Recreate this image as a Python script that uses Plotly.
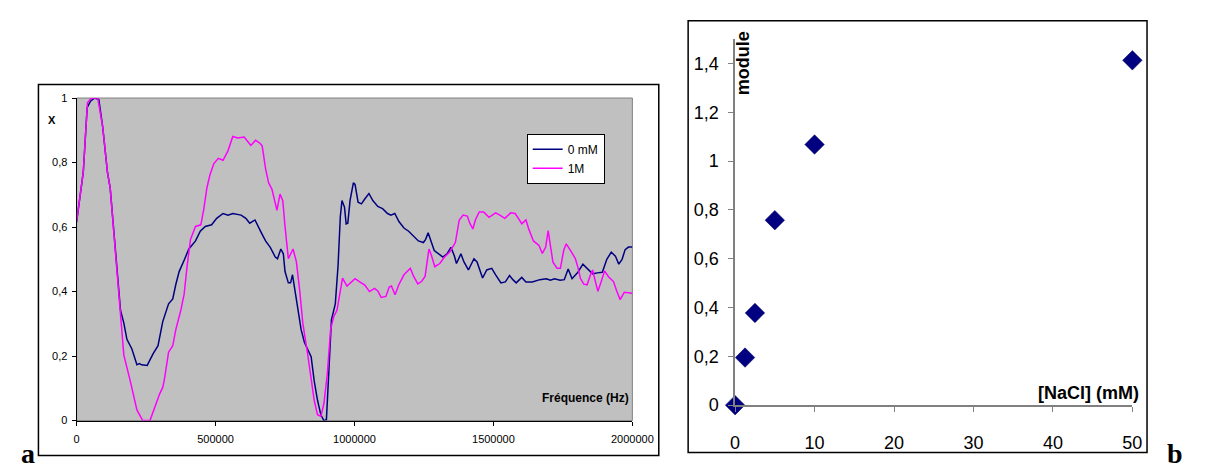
import plotly.graph_objects as go

# ---------------- Data: panel a ----------------
freq_0mM = [0, 12000, 24000, 38000, 50000, 65000, 80000, 94000, 111000, 121000, 135000, 147000, 158000,
            170000, 181000, 199000, 217000, 226000, 234000, 254000, 275000, 293000, 310000, 331000, 346000,
            357000, 369000, 387000, 404000, 428000, 445000, 463000, 486000, 504000, 527000, 545000, 562000,
            592000, 609000, 623000, 642000, 665000, 680000, 697000, 715000, 723000, 735000, 744000, 750000,
            762000, 770000, 777000, 785000, 797000, 808000, 820000, 832000, 844000, 855000, 867000, 879000,
            890000, 899000, 906000, 917000, 931000, 941000, 949000, 955000, 964000, 970000, 976000, 984000,
            996000, 1002000, 1013000, 1025000, 1037000, 1052000, 1066000, 1084000, 1101000, 1119000, 1131000,
            1145000, 1160000, 1178000, 1195000, 1213000, 1230000, 1248000, 1256000, 1265000, 1275000, 1287000,
            1303000, 1318000, 1333000, 1347000, 1359000, 1367000, 1383000, 1394000, 1410000, 1430000, 1441000,
            1461000, 1476000, 1494000, 1508000, 1527000, 1543000, 1558000, 1570000, 1582000, 1602000, 1617000,
            1640000, 1667000, 1690000, 1705000, 1720000, 1740000, 1755000, 1769000, 1783000, 1804000, 1822000,
            1839000, 1857000, 1874000, 1892000, 1908000, 1924000, 1939000, 1951000, 1963000, 1974000, 1986000,
            2000000]
x_0mM = [0.615, 0.69, 0.77, 0.97, 0.99, 1.0, 0.995, 0.91, 0.77, 0.72, 0.572, 0.452, 0.342,
         0.302, 0.252, 0.222, 0.173, 0.177, 0.173, 0.171, 0.207, 0.232, 0.307, 0.362, 0.377,
         0.422, 0.462, 0.497, 0.532, 0.557, 0.587, 0.602, 0.607, 0.627, 0.642, 0.637, 0.642,
         0.637, 0.627, 0.612, 0.622, 0.582, 0.557, 0.537, 0.507, 0.502, 0.532, 0.517, 0.462,
         0.427, 0.427, 0.452, 0.407, 0.342, 0.282, 0.242, 0.222, 0.198, 0.123, 0.063, 0.018,
         0.0, 0.003, 0.143, 0.312, 0.362, 0.482, 0.632, 0.682, 0.662, 0.61, 0.612, 0.682,
         0.737, 0.732, 0.677, 0.672, 0.687, 0.704, 0.682, 0.664, 0.657, 0.642, 0.637,
         0.642, 0.617, 0.597, 0.587, 0.572, 0.557, 0.552, 0.562, 0.582, 0.557, 0.527,
         0.517, 0.507, 0.517, 0.537, 0.512, 0.487, 0.517, 0.492, 0.467, 0.502, 0.492,
         0.442, 0.467, 0.472, 0.452, 0.427, 0.43, 0.45, 0.437, 0.427, 0.444, 0.43,
         0.43, 0.437, 0.44, 0.435, 0.44, 0.435, 0.437, 0.47, 0.44, 0.46, 0.485,
         0.47, 0.455, 0.458, 0.46, 0.50, 0.522, 0.51, 0.485, 0.50, 0.53, 0.538,
         0.538]

freq_1M = [0, 12000, 24000, 39000, 53000, 76000, 94000, 111000, 121000, 135000, 147000, 158000, 170000,
           193000, 217000, 238000, 264000, 299000, 310000, 316000, 331000, 346000, 357000, 375000, 387000,
           398000, 410000, 428000, 447000, 457000, 469000, 480000, 494000, 510000, 527000, 545000, 562000,
           580000, 603000, 627000, 644000, 660000, 668000, 680000, 691000, 703000, 721000, 732000, 742000,
           750000, 762000, 779000, 791000, 803000, 814000, 832000, 844000, 855000, 867000, 879000, 890000,
           902000, 914000, 925000, 937000, 949000, 957000, 973000, 1002000, 1019000, 1037000, 1054000,
           1072000, 1084000, 1096000, 1113000, 1125000, 1133000, 1146000, 1160000, 1178000, 1201000, 1213000,
           1228000, 1242000, 1254000, 1268000, 1277000, 1289000, 1307000, 1324000, 1342000, 1363000, 1377000,
           1391000, 1406000, 1415000, 1426000, 1435000, 1449000, 1465000, 1484000, 1508000, 1523000, 1541000,
           1562000, 1578000, 1590000, 1602000, 1617000, 1628000, 1644000, 1664000, 1676000, 1688000, 1697000,
           1706000, 1714000, 1729000, 1741000, 1753000, 1762000, 1777000, 1795000, 1805000, 1813000, 1825000,
           1837000, 1849000, 1857000, 1867000, 1876000, 1888000, 1900000, 1914000, 1932000, 1944000, 1956000,
           1971000, 1986000, 2000000]
x_1M = [0.617, 0.69, 0.77, 0.985, 1.0, 1.0, 0.91, 0.77, 0.72, 0.572, 0.452, 0.342, 0.203,
        0.123, 0.033, 0.0, 0.0, 0.083, 0.103, 0.128, 0.212, 0.232, 0.282, 0.342, 0.392,
        0.482, 0.562, 0.602, 0.607, 0.652, 0.722, 0.762, 0.797, 0.813, 0.807, 0.837, 0.881,
        0.876, 0.879, 0.853, 0.869, 0.86, 0.851, 0.781, 0.737, 0.717, 0.652, 0.702, 0.682,
        0.602, 0.502, 0.532, 0.492, 0.402, 0.302, 0.203, 0.133, 0.063, 0.018, 0.013, 0.053,
        0.143, 0.282, 0.322, 0.342, 0.402, 0.442, 0.417, 0.44, 0.43, 0.42, 0.40,
        0.41, 0.402, 0.382, 0.385, 0.414, 0.417, 0.39, 0.422, 0.452, 0.472, 0.447,
        0.424, 0.432, 0.447, 0.532, 0.512, 0.477, 0.487, 0.507, 0.522, 0.552, 0.622,
        0.637, 0.634, 0.612, 0.594, 0.622, 0.647, 0.647, 0.63, 0.644, 0.637, 0.627,
        0.644, 0.642, 0.627, 0.61, 0.622, 0.592, 0.557, 0.543, 0.518, 0.538, 0.589,
        0.543, 0.492, 0.472, 0.472, 0.528, 0.548, 0.528, 0.502, 0.472, 0.441, 0.423,
        0.421, 0.451, 0.467, 0.431, 0.401, 0.431, 0.464, 0.446, 0.431, 0.401, 0.375,
        0.398, 0.397, 0.395]

series_names = ["0 mM", "1M"]

xa_tickvals = [0, 500000, 1000000, 1500000, 2000000]
xa_ticktext = ["0", "500000", "1000000", "1500000", "2000000"]
ya_tickvals = [0, 0.2, 0.4, 0.6, 0.8, 1.0]
ya_ticktext = ["0", "0,2", "0,4", "0,6", "0,8", "1"]

# ---------------- Data: panel b ----------------
nacl_mM = [0, 1.25, 2.5, 5, 10, 50]
module_vals = [0.0, 0.195, 0.378, 0.758, 1.068, 1.413]

xb_tickvals = [0, 10, 20, 30, 40, 50]
xb_ticktext = ["0", "10", "20", "30", "40", "50"]
yb_tickvals = [0, 0.2, 0.4, 0.6, 0.8, 1.0, 1.2, 1.4]
yb_ticktext = ["0", "0,2", "0,4", "0,6", "0,8", "1", "1,2", "1,4"]

FONT = "Liberation Sans, Arial, sans-serif"
SERIF = "Liberation Serif, Times New Roman, serif"
W, H = 1207, 468


def px(x):
    return x / W


def py(y):
    return 1 - y / H


fig = go.Figure()

fig.add_trace(go.Scatter(x=freq_0mM, y=x_0mM, mode="lines", name=series_names[0],
                         line=dict(color="#000080", width=1.5), xaxis="x", yaxis="y"))
fig.add_trace(go.Scatter(x=freq_1M, y=x_1M, mode="lines", name=series_names[1],
                         line=dict(color="#FF00FF", width=1.5), xaxis="x", yaxis="y"))
fig.add_trace(go.Scatter(x=nacl_mM, y=module_vals, mode="markers", showlegend=False,
                         marker=dict(symbol="diamond", size=15, color="#000080",
                                     line=dict(color="#000060", width=0.5)),
                         xaxis="x2", yaxis="y2", cliponaxis=False))

# plot-area geometry (pixels)
a_x0, a_x1, a_y0, a_y1 = 65, 633, 87, 421
b_x0, b_x1, b_y0, b_y1 = 738, 1144, 26, 405

fig.update_layout(
    width=W, height=H,
    margin=dict(l=0, r=0, t=0, b=0),
    paper_bgcolor="white", plot_bgcolor="rgba(0,0,0,0)",
    font=dict(family=FONT, color="black"),
    showlegend=True,
    legend=dict(x=px(525), y=py(124), xanchor="left", yanchor="top",
                bgcolor="white", bordercolor="black", borderwidth=1,
                font=dict(size=12, family=FONT), tracegroupgap=2,
                itemwidth=30),
    xaxis=dict(domain=[px(a_x0), px(a_x1)], range=[0, 2000000], anchor="y",
               tickvals=xa_tickvals, ticktext=xa_ticktext, ticks="outside", ticklen=4,
               tickcolor="black", showline=True, linecolor="black", linewidth=1,
               showgrid=False, zeroline=False, tickfont=dict(size=11), ticklabelstandoff=4),
    yaxis=dict(domain=[py(a_y1), py(a_y0)], range=[0, 1], anchor="x",
               tickvals=ya_tickvals, ticktext=ya_ticktext, ticks="outside", ticklen=4,
               tickcolor="black", showline=True, linecolor="black", linewidth=1,
               showgrid=False, zeroline=False, tickfont=dict(size=11), ticklabelstandoff=2),
    xaxis2=dict(domain=[px(b_x0), px(b_x1)], range=[0, 50], anchor="y2",
                tickvals=xb_tickvals, ticktext=xb_ticktext, ticks="outside", ticklen=5,
                tickcolor="#808080", showline=True, linecolor="#808080", linewidth=1.5,
                showgrid=False, zeroline=False, tickfont=dict(size=18), ticklabelstandoff=15),
    yaxis2=dict(domain=[py(b_y1), py(b_y0)], range=[0, 1.5], anchor="x2",
                tickvals=yb_tickvals, ticktext=yb_ticktext, ticks="outside", ticklen=5,
                tickcolor="#808080", showline=True, linecolor="#808080", linewidth=1.5,
                showgrid=False, zeroline=False, tickfont=dict(size=18), ticklabelstandoff=6),
)

shapes = [
    # grey plot area of panel a
    dict(type="rect", xref="x domain", yref="y domain", x0=0, x1=1, y0=0, y1=1,
         fillcolor="#C0C0C0", line=dict(color="#808080", width=1), layer="below"),
    # outer frames
    dict(type="rect", xref="paper", yref="paper", x0=px(26), x1=px(660), y0=py(457), y1=py(73),
         line=dict(color="black", width=1.5), fillcolor="rgba(0,0,0,0)", layer="below"),
    dict(type="rect", xref="paper", yref="paper", x0=px(690), x1=px(1159), y0=py(454), y1=py(7),
         line=dict(color="black", width=1.5), fillcolor="rgba(0,0,0,0)", layer="below"),
]
fig.update_layout(shapes=shapes)

annotations = [
    dict(text="<b>X</b>", x=px(40), y=py(110), xanchor="center", yanchor="middle",
         xref="paper", yref="paper", showarrow=False, font=dict(size=11, family=FONT)),
    dict(text="<b>Fréquence (Hz)</b>", x=px(632), y=py(398), xanchor="right", yanchor="middle",
         xref="paper", yref="paper", showarrow=False, font=dict(size=12, family=FONT)),
    dict(text="<b>module</b>", x=px(747), y=py(16), xanchor="center", yanchor="top",
         xref="paper", yref="paper", textangle=-90, showarrow=False,
         font=dict(size=18, family=FONT)),
    dict(text="<b>[NaCl] (mM)</b>", x=px(1153), y=py(392), xanchor="right", yanchor="middle",
         xref="paper", yref="paper", showarrow=False, font=dict(size=18, family=FONT)),
    dict(text="<b>a</b>", x=px(15), y=py(455), xanchor="center", yanchor="middle",
         xref="paper", yref="paper", showarrow=False, font=dict(size=28, family=SERIF)),
    dict(text="<b>b</b>", x=px(1188), y=py(455), xanchor="center", yanchor="middle",
         xref="paper", yref="paper", showarrow=False, font=dict(size=28, family=SERIF)),
]
fig.update_layout(annotations=annotations)

fig.write_html("out.html")
